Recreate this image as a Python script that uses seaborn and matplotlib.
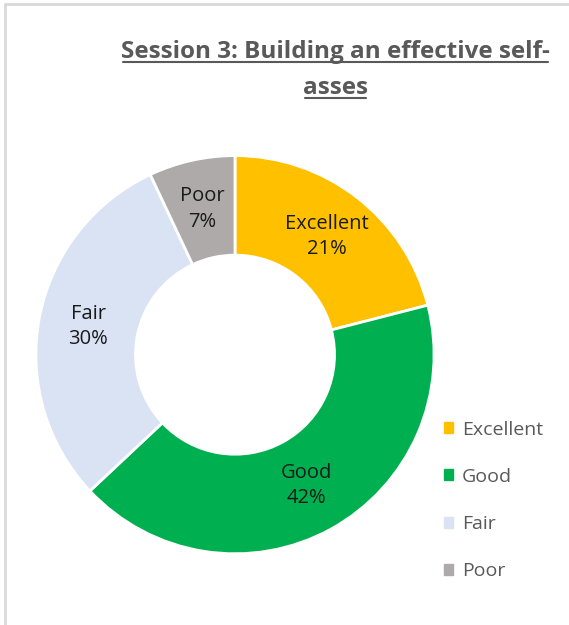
import matplotlib
matplotlib.use("Agg")
import matplotlib.pyplot as plt
import seaborn as sns
from matplotlib.lines import Line2D

# Données du graphique
categories = ["Excellent", "Good", "Fair", "Poor"]
values = [21, 42, 30, 7]
colors = ["#FFC000", "#00B050", "#DAE3F3", "#AEAAAA"]
title_lines = ["Session 3: Building an effective self-", "asses"]

sns.set_theme(style="white")
plt.rcParams['font.family'] = ['Open Sans', 'DejaVu Sans']

fig = plt.figure(figsize=(5.69, 6.25), dpi=100)

# Bordure grise (haut et gauche)
fig.add_artist(Line2D([5 / 569, 5 / 569], [0, 1 - 4 / 625], transform=fig.transFigure, color="#D9D9D9", lw=2))
fig.add_artist(Line2D([5 / 569, 1], [1 - 4 / 625, 1 - 4 / 625], transform=fig.transFigure, color="#D9D9D9", lw=2))

ax = fig.add_axes([0.063, 0.114, 0.70, 0.637])
wedges, texts, autotexts = ax.pie(
    values, colors=colors, startangle=90, counterclock=False,
    autopct='%1.0f%%', pctdistance=0.75,
    wedgeprops=dict(width=0.5, edgecolor="white", linewidth=2),
    textprops=dict(color="#1A1A1A", fontsize=14.5),
)
for t, cat in zip(autotexts, categories):
    t.set_text(f"{cat}\n{t.get_text()}")
    t.set_linespacing(1.35)
ax.set_xlim(-1, 1)
ax.set_ylim(-1, 1)

# Légende
handles = [plt.Rectangle((0, 0), 1, 1, color=c) for c in colors]
leg = fig.legend(handles, categories, loc="upper left", bbox_to_anchor=(0.749, 0.355),
                 frameon=False, fontsize=14, handlelength=0.5, handleheight=0.5,
                 handletextpad=0.45, labelspacing=1.5)
for txt in leg.get_texts():
    txt.set_color("#595959")

# Titre souligné
fig.canvas.draw()
renderer = fig.canvas.get_renderer()
for i, line in enumerate(title_lines):
    y = 1 - (52 + 36 * i) / 625
    t = fig.text(335 / 569, y, line, ha="center", va="center", fontsize=17.5,
                 fontweight="bold", color="#595959")
    bb = t.get_window_extent(renderer=renderer).transformed(fig.transFigure.inverted())
    fig.add_artist(Line2D([bb.x0 + 0.004, bb.x1 - 0.002], [bb.y0 + 0.003, bb.y0 + 0.003],
                          transform=fig.transFigure, color="#595959", lw=1.5))

fig.savefig("out.png", dpi=100)
